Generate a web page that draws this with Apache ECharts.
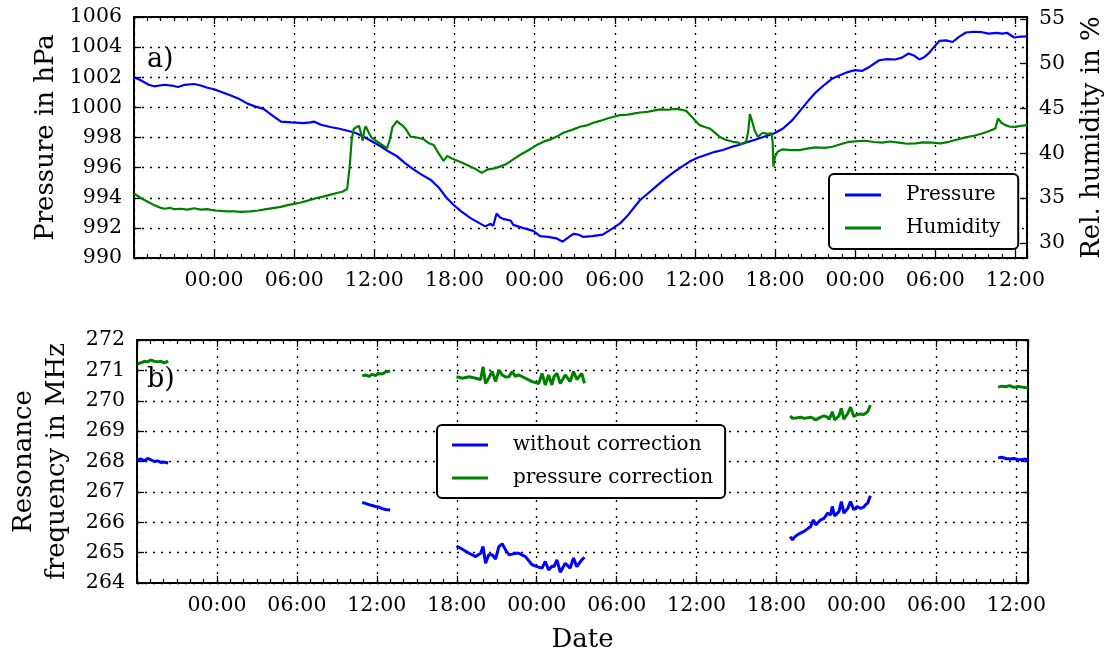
<!DOCTYPE html>
<html><head><meta charset="utf-8">
<script src="https://cdn.jsdelivr.net/npm/echarts@6/dist/echarts.min.js"></script>
<style>html,body{margin:0;padding:0;background:#fff}#c{width:1113px;height:655px}</style>
</head><body><div id="c"></div>
<script>
// time in hours relative to the first 00:00 shown on the axis
const pressureHours = [-6.0,-5.5,-4.9,-4.5,-3.7,-3.2,-2.7,-2.2,-1.5,-1.0,-0.5,0,0.6,1.2,1.9,2.5,3.1,3.7,4.3,5.0,5.8,6.7,7.2,7.5,8.0,8.7,9.3,10.0,10.6,11.2,11.8,12.5,13.1,13.7,14.3,14.9,15.5,16.2,16.8,17.4,17.9,18.5,19.2,19.8,20.3,20.7,20.9,21.15,21.4,21.7,22.2,22.4,23.1,23.9,24.4,25.0,25.65,26.1,26.5,26.9,27.3,27.65,28.3,29.1,29.9,30.4,30.9,31.4,31.9,32.5,33.1,33.7,34.35,35.0,35.6,36.2,36.85,37.5,38.1,38.8,39.3,39.8,40.5,41.0,41.6,41.95,42.6,43.3,43.9,44.5,45.1,45.7,46.3,46.9,47.5,48.0,48.5,49.1,49.8,50.4,51.0,51.5,52.0,52.4,52.8,53.2,53.5,53.9,54.3,54.8,55.3,55.8,56.3,56.9,57.5,58.0,58.6,59.0,59.4,59.9,60.4,60.87];
const pressureValues = [1002.0,1001.8,1001.5,1001.4,1001.5,1001.45,1001.35,1001.5,1001.55,1001.45,1001.3,1001.2,1001.0,1000.8,1000.55,1000.25,1000.05,999.9,999.5,999.05,999.0,998.95,999.0,999.05,998.85,998.7,998.6,998.45,998.3,998.05,997.75,997.4,997.05,996.75,996.3,995.9,995.55,995.2,994.7,994.0,993.55,993.1,992.65,992.35,992.1,992.27,992.14,992.95,992.7,992.58,992.49,992.2,992.0,991.8,991.45,991.4,991.3,991.08,991.35,991.6,991.55,991.4,991.45,991.55,992.0,992.3,992.75,993.3,993.85,994.3,994.75,995.2,995.65,996.05,996.4,996.65,996.85,997.05,997.17,997.39,997.5,997.66,997.85,998.0,998.17,998.28,998.6,999.15,999.8,1000.45,1001.03,1001.5,1001.92,1002.15,1002.36,1002.47,1002.42,1002.7,1003.13,1003.2,1003.18,1003.3,1003.58,1003.45,1003.18,1003.35,1003.58,1004.0,1004.41,1004.45,1004.34,1004.7,1004.97,1005.02,1004.99,1004.9,1004.95,1004.9,1004.94,1004.64,1004.7,1004.72];

const humidityHours = [-6.0,-5.5,-5.0,-4.5,-4.0,-3.7,-3.3,-3.0,-2.5,-2.0,-1.5,-1.0,-0.5,0,0.5,1.0,1.5,2.0,2.7,3.3,3.9,4.5,5.0,5.5,6.0,6.5,7.0,7.7,8.3,8.8,9.2,9.6,9.96,10.15,10.3,10.45,10.65,10.85,11.0,11.13,11.25,11.35,11.55,11.75,12.2,12.6,12.95,13.15,13.35,13.7,13.9,14.1,14.35,14.7,15.2,15.7,16.1,16.45,16.8,17.18,17.45,17.8,18.4,18.9,19.5,20.04,20.5,21.0,21.4,21.9,22.4,22.9,23.5,24.15,24.8,25.3,25.65,26.2,26.8,27.4,27.9,28.4,28.9,29.5,30.0,30.4,31.0,31.5,31.9,32.4,32.9,33.4,34.0,34.5,34.9,35.36,35.8,36.35,36.8,37.1,37.5,37.84,38.3,38.84,39.2,39.46,39.84,40.0,40.12,40.3,40.46,40.71,41.08,41.4,41.75,41.83,41.88,42.0,42.2,42.57,43.2,43.82,44.4,45.06,45.7,46.3,46.9,47.55,48.2,48.79,49.4,50.03,50.6,51.28,51.9,52.53,53.1,53.77,54.4,55.02,55.6,56.27,56.9,57.51,58.0,58.5,58.7,58.95,59.25,59.6,60.0,60.4,60.87];
const humidityValues = [35.5,35.0,34.6,34.2,33.9,33.8,33.9,33.75,33.8,33.7,33.85,33.7,33.75,33.6,33.55,33.5,33.5,33.45,33.5,33.6,33.75,33.9,34.0,34.2,34.35,34.5,34.7,35.0,35.2,35.4,35.55,35.7,36.0,38.5,41.5,42.7,42.9,43.05,42.2,41.4,42.6,43.0,42.4,41.8,41.3,40.9,40.55,41.5,42.9,43.6,43.3,43.1,42.7,41.85,41.75,41.55,41.1,40.9,40.0,39.15,39.7,39.4,39.05,38.7,38.3,37.8,38.2,38.3,38.5,38.8,39.3,39.8,40.3,40.9,41.35,41.6,41.85,42.3,42.6,42.95,43.1,43.4,43.6,43.9,44.1,44.24,44.3,44.45,44.54,44.6,44.75,44.88,44.85,44.95,44.88,44.72,44.0,43.13,42.9,42.76,42.3,41.83,41.5,41.27,41.2,41.02,41.27,42.5,44.36,43.5,42.6,41.83,42.28,42.15,42.2,41.1,38.5,39.6,40.16,40.43,40.35,40.35,40.5,40.65,40.6,40.72,41.0,41.27,41.35,41.39,41.25,41.17,41.3,41.17,41.05,41.1,41.2,41.17,41.1,41.27,41.5,41.76,41.95,42.2,42.45,42.76,43.88,43.4,43.13,42.95,42.94,43.05,43.13];

// resonance frequency measurements (null = no measurement)
const freqHours = [-5.97,-5.7,-5.45,-5.2,-4.95,-4.7,-4.45,-4.2,-3.95,-3.66,-3.5,
  10.9,11.15,11.4,11.65,11.9,12.15,12.4,12.65,13.0,13.2,
  17.98,18.42,18.92,19.42,19.79,19.97,20.16,20.4,20.66,20.91,21.16,21.41,21.66,21.91,22.16,22.4,22.65,23.15,23.65,24.15,24.4,24.64,24.89,25.14,25.3,25.52,25.77,26.14,26.51,26.76,27.01,27.13,27.38,27.58,27.8,
  43.02,43.2,43.32,43.57,43.82,44.06,44.19,44.56,44.76,44.94,45.31,45.56,45.68,45.81,45.93,46.06,46.18,46.36,46.68,46.86,47.05,47.35,47.55,47.8,48.05,48.3,48.54,48.67,48.84,49.04,49.2,
  58.63,58.9,59.2,59.5,59.8,60.1,60.4,60.65,60.87];
const freqWithout = [268.05,268.08,268.02,268.1,268.05,268.0,268.02,267.97,267.98,267.95,null,
  266.65,266.62,266.58,266.55,266.52,266.5,266.45,266.42,266.4,null,
  265.22,265.11,264.98,264.87,264.98,265.2,264.65,264.93,264.93,264.79,265.2,265.29,265.09,264.93,264.95,264.98,264.98,264.87,264.6,264.52,264.49,264.71,264.43,264.55,264.54,264.76,264.35,264.65,264.49,264.82,264.54,264.6,264.76,264.85,null,
  265.53,265.42,265.5,265.59,265.65,265.7,265.75,265.86,266.08,265.91,266.08,266.13,266.2,266.3,266.27,266.24,266.52,266.21,266.35,266.68,266.3,266.46,266.68,266.41,266.52,266.46,266.5,266.57,266.63,266.87,null,
  268.12,268.14,268.1,268.08,268.1,268.07,268.06,268.08,268.05];
const freqCorrected = [271.22,271.25,271.3,271.28,271.34,271.3,271.28,271.3,271.25,271.3,null,
  270.82,270.85,270.8,270.87,270.83,270.9,270.88,270.95,270.98,null,
  270.79,270.74,270.79,270.74,270.7,271.12,270.57,270.75,270.96,270.63,271.01,270.85,270.78,270.79,270.96,270.8,270.85,270.74,270.63,270.57,270.9,270.52,270.85,270.52,270.8,270.9,270.57,270.85,270.63,270.96,270.7,270.74,270.9,270.57,null,
  269.5,269.42,269.39,269.44,269.46,269.42,269.39,269.46,269.42,269.37,269.46,269.5,269.53,269.46,269.39,269.5,269.64,269.37,269.5,269.75,269.39,269.59,269.79,269.48,269.55,269.56,269.55,269.6,269.64,269.86,null,
  270.45,270.48,270.46,270.5,270.44,270.47,270.45,270.44,270.43];

const majorHourTicks = [0,6,12,18,24,30,36,42,48,54,60];
const minorHourTicks = [];
for (let h = -5; h <= 60; h++) if (h % 6 !== 0) minorHourTicks.push(h);
const humidityTicks = [30,35,40,45,50,55];

const X_MIN = -6, X_MAX = 60.87;
const SERIF = 'DejaVu Serif';
const BLUE = '#0000ff', GREEN = '#008000';

function fmtHour(v){ const h = ((Math.round(v) % 24) + 24) % 24; return (h < 10 ? '0' : '') + h + ':00'; }
function fmtPlain(v){ return String(Math.round(v)); }
function pairs(xs, ys){ return xs.map((x,i) => [x, ys[i] == null ? '-' : ys[i]]); }

const dotted = {show:true, lineStyle:{color:'#000', width:1.3, type:[2,6]}};
const lineBlack = {show:true, onZero:false, lineStyle:{color:'#000', width:2}};
const labelStyle = {color:'#000', fontFamily:SERIF, fontSize:20.5, formatter:fmtPlain};
const nameStyle = {color:'#000', fontFamily:SERIF, fontSize:26};

function xAxesFor(g, name){
  const base = {gridIndex:g, type:'value', min:X_MIN, max:X_MAX};
  return [
    Object.assign({}, base, {position:'bottom', interval:6, axisLine:lineBlack,
      axisTick:{show:true, inside:true, length:7, lineStyle:{color:'#000', width:1.3}},
      axisLabel:Object.assign({}, labelStyle, {show:true, customValues:majorHourTicks, formatter:fmtHour, margin:12}),
      splitLine:dotted, name:name, nameLocation:'middle', nameGap:44, nameTextStyle:nameStyle}),
    Object.assign({}, base, {position:'top', interval:6, axisLine:lineBlack,
      axisTick:{show:true, inside:true, length:7, lineStyle:{color:'#000', width:1.3}},
      axisLabel:{show:false}, splitLine:{show:false}}),
    Object.assign({}, base, {position:'bottom', axisLine:{show:false, onZero:false},
      axisTick:{show:true, inside:true, length:4, customValues:minorHourTicks, lineStyle:{color:'#000', width:1.2}},
      axisLabel:{show:false}, splitLine:{show:false}}),
    Object.assign({}, base, {position:'top', axisLine:{show:false, onZero:false},
      axisTick:{show:true, inside:true, length:4, customValues:minorHourTicks, lineStyle:{color:'#000', width:1.2}},
      axisLabel:{show:false}, splitLine:{show:false}})
  ];
}

const legendCommon = {orient:'vertical', icon:'rect', itemWidth:36, itemHeight:3, itemGap:13,
  backgroundColor:'#fff', borderColor:'#000', borderWidth:2, borderRadius:5,
  textStyle:{color:'#000', fontFamily:SERIF, fontSize:20, padding:[0,0,0,20]}};

const option = {
  animation:false,
  backgroundColor:'#fff',
  grid:[
    {left:134, top:17, width:894, height:241},
    {left:134, top:340, width:894, height:243}
  ],
  xAxis: xAxesFor(0, '').concat(xAxesFor(1, 'Date')),
  yAxis:[
    {gridIndex:0, type:'value', position:'left', min:990, max:1006, interval:2, axisLine:lineBlack,
     axisTick:{show:true, inside:true, length:7, lineStyle:{color:'#000', width:1.3}},
     axisLabel:Object.assign({margin:12}, labelStyle), splitLine:dotted,
     name:'Pressure in hPa', nameLocation:'middle', nameRotate:90, nameGap:57, nameTextStyle:nameStyle},
    {gridIndex:0, type:'value', position:'right', min:28.3, max:55.2, axisLine:lineBlack,
     axisTick:{show:true, inside:true, length:7, customValues:humidityTicks, lineStyle:{color:'#000', width:1.3}},
     axisLabel:Object.assign({margin:12, customValues:humidityTicks}, labelStyle), splitLine:{show:false},
     name:'Rel. humidity in %', nameLocation:'middle', nameRotate:90, nameGap:52, nameTextStyle:nameStyle},
    {gridIndex:1, type:'value', position:'left', min:264, max:272, interval:1, axisLine:lineBlack,
     axisTick:{show:true, inside:true, length:7, lineStyle:{color:'#000', width:1.3}},
     axisLabel:Object.assign({margin:12}, labelStyle), splitLine:dotted,
     name:'Resonance\nfrequency in MHz', nameLocation:'middle', nameRotate:90, nameGap:63,
     nameTextStyle:Object.assign({lineHeight:33}, nameStyle)},
    {gridIndex:1, type:'value', position:'right', min:264, max:272, interval:1, axisLine:lineBlack,
     axisTick:{show:true, inside:true, length:7, lineStyle:{color:'#000', width:1.3}},
     axisLabel:{show:false}, splitLine:{show:false}}
  ],
  legend:[
    Object.assign({}, legendCommon, {data:['Pressure','Humidity'], left:829, top:174, padding:[11,18,11,16]}),
    Object.assign({}, legendCommon, {data:['without correction','pressure correction'], left:437, top:425, padding:[10,12,10,15]})
  ],
  graphic:[
    {type:'text', left:147, top:46, style:{text:'a)', font:'27px "DejaVu Serif"', fill:'#000'}},
    {type:'text', left:147, top:366, style:{text:'b)', font:'27px "DejaVu Serif"', fill:'#000'}}
  ],
  series:[
    {name:'Pressure', type:'line', xAxisIndex:0, yAxisIndex:0, data:pairs(pressureHours, pressureValues),
     showSymbol:false, lineStyle:{color:BLUE, width:2.2}, itemStyle:{color:BLUE}},
    {name:'Humidity', type:'line', xAxisIndex:0, yAxisIndex:1, data:pairs(humidityHours, humidityValues),
     showSymbol:false, lineStyle:{color:GREEN, width:2.2}, itemStyle:{color:GREEN}},
    {name:'without correction', type:'line', xAxisIndex:4, yAxisIndex:2, data:pairs(freqHours, freqWithout),
     showSymbol:false, connectNulls:false, lineStyle:{color:BLUE, width:3}, itemStyle:{color:BLUE}},
    {name:'pressure correction', type:'line', xAxisIndex:4, yAxisIndex:2, data:pairs(freqHours, freqCorrected),
     showSymbol:false, connectNulls:false, lineStyle:{color:GREEN, width:3}, itemStyle:{color:GREEN}}
  ]
};
const chart = echarts.init(document.getElementById('c'), null, {renderer:'canvas'});
chart.setOption(option);
</script></body></html>
